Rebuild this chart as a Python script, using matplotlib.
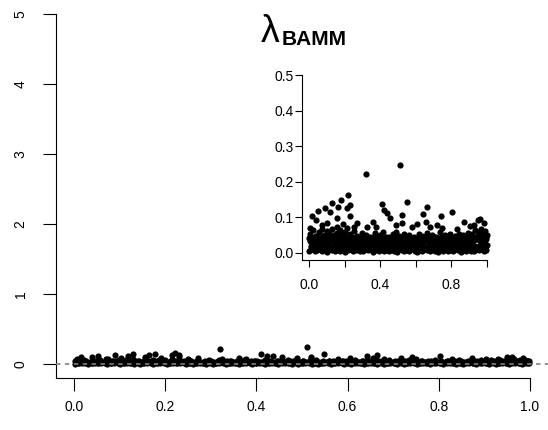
import matplotlib
matplotlib.use('Agg')
import matplotlib.pyplot as plt
import numpy as np

plt.rcParams['font.family'] = ['Liberation Sans', 'DejaVu Sans']
plt.rcParams['lines.scale_dashes'] = False

# ---------------- data ----------------
# bottom layer of the dense band
x_low = [0.002, 0.016, 0.031, 0.045, 0.058, 0.073, 0.088, 0.101, 0.116, 0.131,
         0.145, 0.159, 0.174, 0.188, 0.203, 0.217, 0.232, 0.246, 0.261, 0.275,
         0.289, 0.304, 0.318, 0.333, 0.347, 0.362, 0.376, 0.391, 0.405, 0.419,
         0.434, 0.448, 0.463, 0.477, 0.492, 0.506, 0.521, 0.535, 0.549, 0.564,
         0.578, 0.593, 0.607, 0.622, 0.636, 0.651, 0.665, 0.679, 0.694, 0.708,
         0.723, 0.737, 0.752, 0.766, 0.781, 0.795, 0.809, 0.824, 0.838, 0.853,
         0.867, 0.882, 0.896, 0.911, 0.925, 0.939, 0.954, 0.968, 0.983, 0.997]
y_low = [0.006, 0.010, 0.004, 0.008, 0.012, 0.005, 0.009, 0.003, 0.011, 0.007,
         0.004, 0.009, 0.006, 0.012, 0.003, 0.008, 0.010, 0.005, 0.007, 0.011,
         0.006, 0.004, 0.010, 0.007, 0.012, 0.003, 0.009, 0.005, 0.011, 0.006,
         0.008, 0.004, 0.010, 0.006, 0.003, 0.011, 0.007, 0.005, 0.009, 0.004,
         0.012, 0.006, 0.003, 0.009, 0.005, 0.010, 0.007, 0.004, 0.011, 0.006,
         0.003, 0.008, 0.005, 0.012, 0.006, 0.009, 0.004, 0.010, 0.007, 0.003,
         0.009, 0.005, 0.011, 0.006, 0.004, 0.010, 0.007, 0.012, 0.005, 0.008]

# second low layer
x_low2 = [0.010, 0.024, 0.039, 0.053, 0.067, 0.081, 0.096, 0.110, 0.125, 0.139,
          0.153, 0.168, 0.182, 0.197, 0.211, 0.226, 0.240, 0.255, 0.269, 0.283,
          0.298, 0.312, 0.327, 0.341, 0.356, 0.370, 0.385, 0.399, 0.413, 0.428,
          0.442, 0.457, 0.471, 0.486, 0.500, 0.515, 0.529, 0.543, 0.558, 0.572,
          0.587, 0.601, 0.616, 0.630, 0.645, 0.659, 0.673, 0.688, 0.702, 0.717,
          0.731, 0.746, 0.760, 0.775, 0.789, 0.803, 0.818, 0.832, 0.847, 0.861,
          0.876, 0.890, 0.905, 0.919, 0.933, 0.948, 0.962, 0.977, 0.991, 0.985]
y_low2 = [0.014, 0.012, 0.016, 0.013, 0.015, 0.011, 0.017, 0.013, 0.015, 0.012,
          0.016, 0.014, 0.011, 0.015, 0.013, 0.017, 0.012, 0.014, 0.016, 0.013,
          0.011, 0.015, 0.013, 0.016, 0.012, 0.014, 0.017, 0.011, 0.015, 0.013,
          0.016, 0.012, 0.014, 0.011, 0.015, 0.013, 0.017, 0.012, 0.014, 0.016,
          0.013, 0.011, 0.015, 0.014, 0.017, 0.012, 0.013, 0.016, 0.011, 0.015,
          0.014, 0.012, 0.016, 0.013, 0.011, 0.015, 0.017, 0.012, 0.014, 0.013,
          0.016, 0.011, 0.015, 0.013, 0.017, 0.012, 0.014, 0.016, 0.013, 0.011]

# middle layer of the dense band
x_mid = [0.008, 0.023, 0.038, 0.052, 0.066, 0.080, 0.095, 0.109, 0.123, 0.138,
         0.152, 0.166, 0.181, 0.195, 0.210, 0.224, 0.239, 0.253, 0.268, 0.282,
         0.297, 0.311, 0.325, 0.340, 0.354, 0.369, 0.383, 0.398, 0.412, 0.427,
         0.441, 0.455, 0.470, 0.484, 0.499, 0.513, 0.528, 0.542, 0.557, 0.571,
         0.586, 0.600, 0.614, 0.629, 0.643, 0.658, 0.672, 0.687, 0.701, 0.716,
         0.730, 0.744, 0.759, 0.773, 0.788, 0.802, 0.817, 0.831, 0.846, 0.860,
         0.875, 0.889, 0.904, 0.918, 0.932, 0.947, 0.961, 0.976, 0.990, 0.999]
y_mid = [0.019, 0.024, 0.016, 0.021, 0.026, 0.018, 0.023, 0.015, 0.020, 0.025,
         0.017, 0.022, 0.019, 0.026, 0.015, 0.021, 0.024, 0.018, 0.020, 0.016,
         0.023, 0.018, 0.025, 0.016, 0.021, 0.019, 0.024, 0.017, 0.022, 0.020,
         0.015, 0.025, 0.019, 0.022, 0.017, 0.024, 0.016, 0.021, 0.026, 0.018,
         0.022, 0.016, 0.024, 0.019, 0.021, 0.015, 0.025, 0.018, 0.020, 0.023,
         0.017, 0.026, 0.020, 0.016, 0.023, 0.019, 0.025, 0.015, 0.021, 0.024,
         0.018, 0.022, 0.016, 0.025, 0.020, 0.017, 0.023, 0.019, 0.026, 0.021]

# upper layer of the dense band
x_up = [0.004, 0.019, 0.034, 0.048, 0.062, 0.077, 0.091, 0.105, 0.120, 0.134,
        0.148, 0.163, 0.177, 0.192, 0.206, 0.221, 0.235, 0.249, 0.264, 0.278,
        0.293, 0.307, 0.322, 0.336, 0.351, 0.365, 0.379, 0.394, 0.408, 0.423,
        0.437, 0.452, 0.466, 0.481, 0.495, 0.509, 0.524, 0.538, 0.553, 0.567,
        0.582, 0.596, 0.611, 0.625, 0.640, 0.654, 0.668, 0.683, 0.697, 0.712,
        0.726, 0.741, 0.755, 0.770, 0.784, 0.798, 0.813, 0.827, 0.842, 0.856,
        0.871, 0.885, 0.900, 0.914, 0.929, 0.943, 0.957, 0.972, 0.986, 0.995]
y_up = [0.033, 0.038, 0.030, 0.041, 0.035, 0.029, 0.039, 0.032, 0.036, 0.042,
        0.031, 0.037, 0.040, 0.029, 0.034, 0.038, 0.031, 0.036, 0.028, 0.033,
        0.037, 0.030, 0.035, 0.039, 0.031, 0.034, 0.028, 0.038, 0.033, 0.036,
        0.029, 0.035, 0.032, 0.039, 0.034, 0.030, 0.037, 0.033, 0.028, 0.036,
        0.031, 0.038, 0.034, 0.029, 0.036, 0.033, 0.039, 0.030, 0.035, 0.032,
        0.037, 0.030, 0.034, 0.028, 0.036, 0.032, 0.029, 0.035, 0.031, 0.033,
        0.030, 0.036, 0.033, 0.039, 0.035, 0.041, 0.037, 0.040, 0.034, 0.038]

# second upper layer
x_up2 = [0.012, 0.026, 0.041, 0.055, 0.070, 0.084, 0.098, 0.113, 0.127, 0.141,
         0.156, 0.170, 0.185, 0.199, 0.213, 0.228, 0.242, 0.257, 0.271, 0.286,
         0.300, 0.315, 0.329, 0.344, 0.358, 0.372, 0.387, 0.401, 0.416, 0.430,
         0.445, 0.459, 0.474, 0.488, 0.502, 0.517, 0.531, 0.546, 0.560, 0.575,
         0.589, 0.604, 0.618, 0.632, 0.647, 0.661, 0.676, 0.690, 0.705, 0.719,
         0.733, 0.748, 0.762, 0.777, 0.791, 0.806, 0.820, 0.835, 0.849, 0.864,
         0.878, 0.893, 0.907, 0.921, 0.936, 0.950, 0.965, 0.979, 0.993, 0.001]
y_up2 = [0.045, 0.042, 0.047, 0.041, 0.046, 0.043, 0.048, 0.042, 0.045, 0.049,
         0.043, 0.047, 0.044, 0.041, 0.048, 0.042, 0.046, 0.040, 0.044, 0.042,
         0.041, 0.045, 0.043, 0.040, 0.044, 0.042, 0.046, 0.041, 0.043, 0.045,
         0.040, 0.043, 0.041, 0.045, 0.042, 0.044, 0.040, 0.046, 0.041, 0.043,
         0.042, 0.040, 0.044, 0.041, 0.045, 0.043, 0.040, 0.042, 0.046, 0.041,
         0.043, 0.045, 0.040, 0.042, 0.044, 0.041, 0.043, 0.040, 0.045, 0.042,
         0.044, 0.041, 0.046, 0.043, 0.045, 0.048, 0.044, 0.047, 0.045, 0.043]

# upper fringe of the band
x_fringe = [0.006, 0.022, 0.041, 0.057, 0.070, 0.086, 0.099, 0.114, 0.128, 0.143,
            0.157, 0.172, 0.186, 0.200, 0.214, 0.229, 0.252, 0.270, 0.296, 0.318,
            0.343, 0.372, 0.396, 0.418, 0.447, 0.470, 0.487, 0.503, 0.531, 0.560,
            0.588, 0.616, 0.633, 0.662, 0.690, 0.711, 0.735, 0.763, 0.791, 0.818,
            0.845, 0.868, 0.893, 0.915, 0.934, 0.950, 0.966, 0.979, 0.990, 0.998]
y_fringe = [0.052, 0.063, 0.048, 0.058, 0.066, 0.050, 0.061, 0.055, 0.068, 0.049,
            0.057, 0.064, 0.052, 0.060, 0.070, 0.054, 0.062, 0.048, 0.057, 0.051,
            0.046, 0.055, 0.049, 0.058, 0.045, 0.052, 0.060, 0.047, 0.053, 0.050,
            0.046, 0.054, 0.048, 0.056, 0.051, 0.045, 0.058, 0.049, 0.052, 0.047,
            0.054, 0.049, 0.057, 0.052, 0.063, 0.058, 0.066, 0.055, 0.061, 0.050]

# scattered high values
x_out = [0.320, 0.511, 0.549, 0.410, 0.423, 0.436, 0.457, 0.221, 0.230, 0.178,
         0.165, 0.215, 0.129, 0.230, 0.090, 0.118, 0.052, 0.015, 0.039, 0.155,
         0.103, 0.155, 0.271, 0.642, 0.665, 0.655, 0.742, 0.803, 0.873, 0.904,
         0.951, 0.962, 0.985, 0.605, 0.680, 0.717, 0.750, 0.520, 0.520, 0.490,
         0.376, 0.361, 0.324, 0.006, 0.075, 0.190, 0.250, 0.578, 0.830, 0.930]
y_out = [0.221, 0.246, 0.143, 0.137, 0.121, 0.113, 0.099, 0.164, 0.134, 0.148,
         0.130, 0.125, 0.141, 0.104, 0.126, 0.116, 0.119, 0.104, 0.093, 0.097,
         0.083, 0.074, 0.085, 0.110, 0.129, 0.087, 0.105, 0.116, 0.086, 0.077,
         0.093, 0.095, 0.083, 0.081, 0.074, 0.079, 0.070, 0.106, 0.085, 0.079,
         0.074, 0.088, 0.074, 0.069, 0.078, 0.080, 0.072, 0.072, 0.068, 0.078]

main_xticks = [0.0, 0.2, 0.4, 0.6, 0.8, 1.0]
main_xlabels = ['0.0', '0.2', '0.4', '0.6', '0.8', '1.0']
main_yticks = [0, 1, 2, 3, 4, 5]
main_ylabels = ['0', '1', '2', '3', '4', '5']
inset_xticks = [0.0, 0.2, 0.4, 0.6, 0.8, 1.0]
inset_xlabels = ['0.0', '', '0.4', '', '0.8', '']
inset_yticks = [0.0, 0.1, 0.2, 0.3, 0.4, 0.5]
inset_ylabels = ['0.0', '0.1', '0.2', '0.3', '0.4', '0.5']

xs = np.concatenate([x_low, x_low2, x_mid, x_up, x_up2, x_fringe, x_out])
ys = np.concatenate([y_low, y_low2, y_mid, y_up, y_up2, y_fringe, y_out])

# ---------------- figure ----------------
W, H = 548, 430
fig = plt.figure(figsize=(W / 100, H / 100), dpi=100)


def px_rect(l, t, r, b):
    return [l / W, 1 - b / H, (r - l) / W, (b - t) / H]


def r_style(ax, xb, yb):
    ax.spines['top'].set_visible(False)
    ax.spines['right'].set_visible(False)
    for s in ('left', 'bottom'):
        ax.spines[s].set_linewidth(0.8)
    ax.spines['left'].set_bounds(*yb)
    ax.spines['bottom'].set_bounds(*xb)
    ax.set_facecolor('none')


MS = 20

ax = fig.add_axes(px_rect(56, 0, 548, 378))
ax.scatter(xs, ys, s=MS, c='black', linewidths=0, zorder=2, clip_on=False)
ax.axhline(0, color='#808080', lw=1.2, ls=(0, (3.2, 3.2)), zorder=3)
ax.set_xlim(-0.04, 1.04)
ax.set_ylim(-0.2, 5.2)
r_style(ax, (-0.04, 1.0), (-0.2, 5))
ax.set_xticks(main_xticks)
ax.set_xticklabels(main_xlabels)
ax.set_yticks(main_yticks)
ax.set_yticklabels(main_ylabels, rotation=90, va='center')
ax.tick_params(axis='both', direction='out', length=9.4, width=0.8, labelsize=10)
ax.tick_params(axis='x', pad=6.5)
ax.tick_params(axis='y', pad=11)

ax2 = fig.add_axes(px_rect(302, 68, 494, 260))
ax2.scatter(xs, ys, s=MS, c='black', linewidths=0, zorder=2)
ax2.set_xlim(-0.04, 1.04)
ax2.set_ylim(-0.02, 0.52)
r_style(ax2, (-0.04, 1.0), (-0.02, 0.5))
ax2.set_xticks(inset_xticks)
ax2.set_xticklabels(inset_xlabels)
ax2.set_yticks(inset_yticks)
ax2.set_yticklabels(inset_ylabels)
ax2.tick_params(axis='both', direction='out', length=5, width=0.8, labelsize=10)
ax2.tick_params(axis='x', pad=8)
ax2.tick_params(axis='y', pad=1)

# title lambda_BAMM
fig.text(270 / W, 1 - 42 / H, 'λ', fontsize=27, ha='center', va='baseline')
fig.text(282 / W, 1 - 45 / H, 'BAMM', fontsize=15, fontweight='bold', ha='left', va='baseline')

fig.savefig('out.png', dpi=100)
